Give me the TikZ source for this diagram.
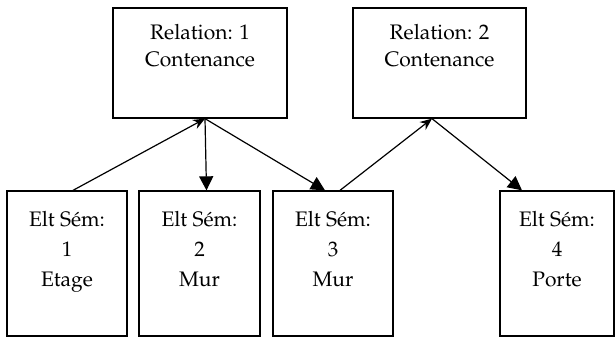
\documentclass[tikz,border=0pt]{standalone}
\usepackage[T1]{fontenc}
\usepackage{mathpazo}
\usetikzlibrary{arrows.meta}
\begin{document}
\begin{tikzpicture}[x=1pt,y=-1pt,
  box/.style={draw, line width=1.3pt, inner sep=0pt},
  rtxt/.style={align=center, font=\fontsize{21}{27}\selectfont, inner sep=0pt, anchor=base},
  btxt/.style={align=center, font=\fontsize{21}{30}\selectfont, inner sep=0pt, anchor=base},
  conn/.style={line width=1.2pt},
  uptip/.style={-{Stealth[length=12pt,width=10pt,inset=4pt]}},
  downtip/.style={-{Triangle[length=14pt,width=14pt]}}]
\useasboundingbox (0,0) rectangle (615,338);
\node[box, minimum width=174pt, minimum height=110pt] (r1) at (200,63) {};
\node[box, minimum width=173pt, minimum height=110pt] (r2) at (439.5,63) {};
\node[box, minimum width=120pt, minimum height=145pt] (b1) at (67,263.5) {};
\node[box, minimum width=121pt, minimum height=145pt] (b2) at (199.5,263.5) {};
\node[box, minimum width=120pt, minimum height=145pt] (b3) at (333,263.5) {};
\node[box, minimum width=114pt, minimum height=145pt] (b4) at (557,263.5) {};
\node[rtxt] (r1t) at (200,66.5) {Relation: 1\\Contenance};
\node[rtxt] (r2t) at (439.5,66.5) {Relation: 2\\Contenance};
\node[btxt] (b1t) at (67,286.5) {Elt S\'em:\\1\\Etage};
\node[btxt] (b2t) at (199.5,286.5) {Elt S\'em:\\2\\Mur};
\node[btxt] (b3t) at (333,286.5) {Elt S\'em:\\3\\Mur};
\node[btxt] (b4t) at (557,286.5) {Elt S\'em:\\4\\Porte};
\draw[conn,uptip] ([xshift=6pt]b1.north) -- ([xshift=5pt]r1.south);
\draw[conn,downtip] ([xshift=5pt]r1.south) -- ([xshift=7pt]b2.north);
\draw[conn,downtip] ([xshift=5pt]r1.south) -- ([xshift=-8pt]b3.north);
\draw[conn,uptip] ([xshift=7pt]b3.north) -- ([xshift=-7.5pt]r2.south);
\draw[conn,downtip] ([xshift=-7.5pt]r2.south) -- ([xshift=-35pt]b4.north);
\end{tikzpicture}
\end{document}
